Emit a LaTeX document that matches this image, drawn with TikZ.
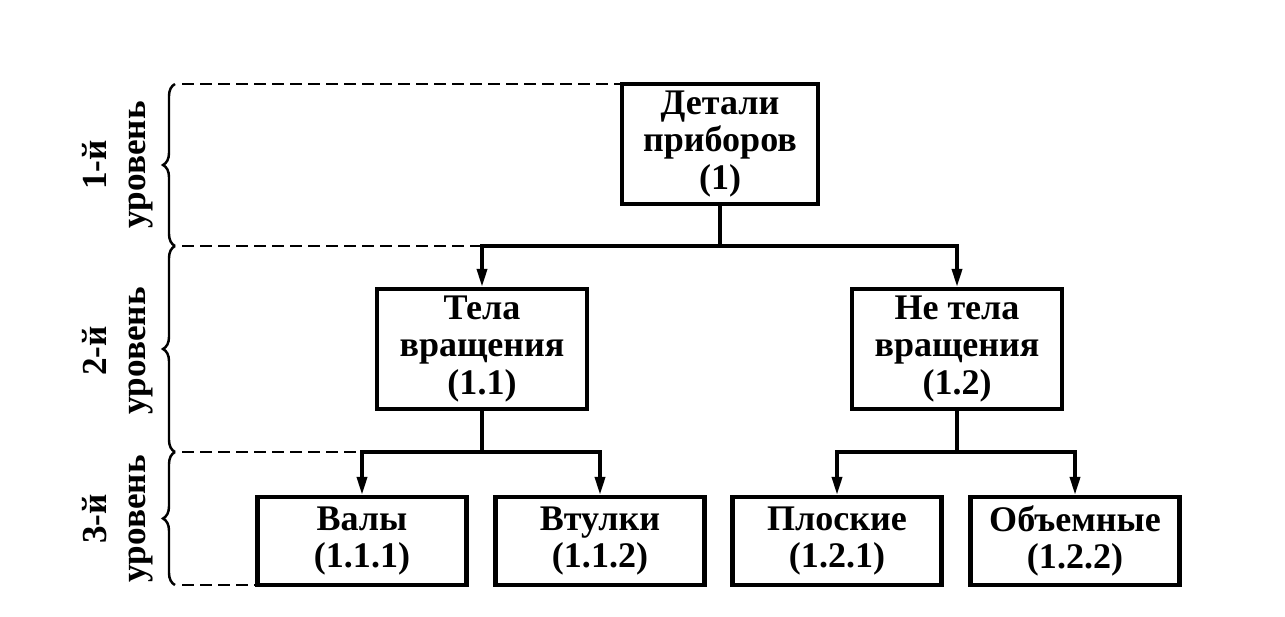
\documentclass[tikz,border=0pt]{standalone}
\usepackage{fontspec}
\setmainfont{Liberation Serif}
\usetikzlibrary{arrows.meta,decorations.pathreplacing}

\begin{document}
\begin{tikzpicture}[->,>={Triangle[length=0.36cm,width=0.2cm]},line width=2pt,
    font=\fontsize{20.5}{21.5}\selectfont\bfseries]
    \tikzstyle{part}=[rectangle,draw,line width=2.4pt,align=center,inner sep=0pt]
    \tikzstyle{big}=[part,minimum width=4.2cm,minimum height=2.4cm]
    \tikzstyle{small}=[part,minimum width=4.18cm,minimum height=1.76cm]
    \tikzstyle{levelline}=[-,dash pattern=on 0.24cm off 0.12cm,line width=1.5pt]
    \tikzstyle{levelbrace}=[-,decorate,decoration={brace,amplitude=0.24cm},line width=1.4pt]
    \tikzstyle{levelname}=[rotate=90,align=center,font=\fontsize{20}{22}\selectfont\bfseries]

    \useasboundingbox (0,0) rectangle (25.7,12.32);

    % level borders
    \coordinate (T0) at (3.5,10.64);
    \coordinate (T1) at (3.5,7.4);
    \coordinate (T2) at (3.5,3.28);
    \coordinate (T3) at (3.5,0.62);

    % first level node
    \node[part,minimum width=3.92cm,minimum height=2.4cm] (L1) at (14.4,9.44) {Детали\\приборов\\(1)};

    % second level nodes
    \node[big] (L2-1) at (9.64,5.34) {Тела\\вращения\\(1.1)};
    \node[big] (L2-2) at (19.14,5.34) {Не тела\\вращения\\(1.2)};

    % third level nodes
    \foreach \i/\x/\txt in {1/7.24/{Валы\\(1.1.1)},2/12.0/{Втулки\\(1.1.2)},
        3/16.74/{Плоские\\(1.2.1)},4/21.5/{Объемные\\(1.2.2)}}
    \node[small] (L3-\i) at (\x,1.5) {\txt};

    % level names and braces
    \foreach \i/\y in {1/9.02,2/5.3,3/1.94}
    \node[levelname] (N-\i) at (2.35,\y) {\i-й\\уровень};
    \foreach \a/\b in {1/0,2/1,3/2}
    \draw[levelbrace] (T\a) -- (T\b);

    % dashed level lines
    \draw[levelline] ([xshift=0.14cm]T0) -- (T0 -| L1.west);
    \draw[levelline] ([xshift=0.14cm]T1) -- (T1 -| L2-1);
    \draw[levelline] ([xshift=0.14cm]T2) -- (T2 -| L3-1);
    \draw[levelline] ([xshift=0.14cm]T3) -- (T3 -| L3-1.west);

    % junctions
    \coordinate (J1) at (L1 |- T1);
    \coordinate (J2) at (L2-1 |- T2);
    \coordinate (J3) at (L2-2 |- T2);

    % connect every node with its children
    \draw[-] (L1) -- (J1);
    \draw (J1) -| (L2-1);
    \draw (J1) -| (L2-2);
    \draw[-] (L2-1) -- (J2);
    \draw (J2) -| (L3-1);
    \draw (J2) -| (L3-2);
    \draw[-] (L2-2) -- (J3);
    \draw (J3) -| (L3-3);
    \draw (J3) -| (L3-4);
\end{tikzpicture}
\end{document}
